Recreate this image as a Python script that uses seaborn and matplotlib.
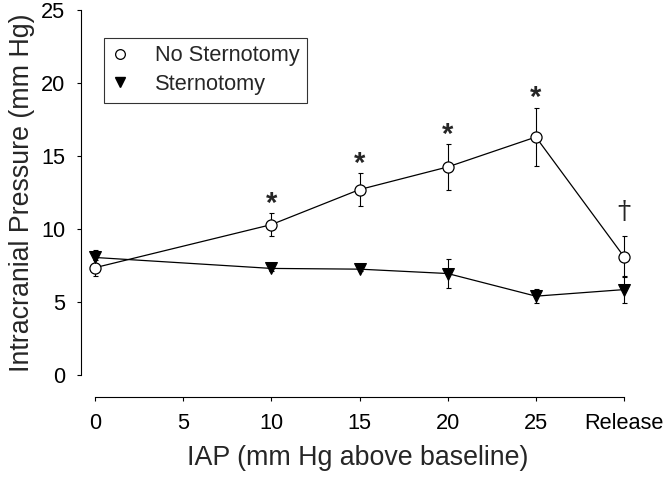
import matplotlib
matplotlib.use('Agg')
import matplotlib.pyplot as plt
from matplotlib.lines import Line2D
import numpy as np
import pandas as pd
import seaborn as sns

# IAP levels (Release is drawn at position 30)
iap = [0, 10, 15, 20, 25, 30]
tick_pos = [0, 5, 10, 15, 20, 25, 30]
tick_labels = ['0', '5', '10', '15', '20', '25', 'Release']

no_stern = [7.35, 10.3, 12.7, 14.25, 16.3, 8.1]
no_stern_err = [0.55, 0.8, 1.15, 1.55, 2.0, 1.4]
stern = [8.05, 7.3, 7.25, 6.95, 5.4, 5.85]
stern_err = [0.5, 0.2, 0.15, 1.0, 0.5, 0.95]

# significance marks
star_x = [10, 15, 20, 25]
star_y = [11.2, 13.9, 15.9, 18.4]
dagger_x = 30
dagger_y = 11.2

df = pd.DataFrame({
    'iap': iap * 2,
    'icp': no_stern + stern,
    'group': ['No Sternotomy'] * len(iap) + ['Sternotomy'] * len(iap),
})

sns.set_style('ticks')
plt.rcParams['font.family'] = ['Liberation Sans', 'DejaVu Sans']

fig = plt.figure(figsize=(6.66, 4.83), dpi=100)
ax = fig.add_axes([0.1216, 0.2236, 0.8313, 0.7557])

ax.errorbar(iap, no_stern, yerr=no_stern_err, fmt='none', ecolor='black',
            elinewidth=0.8, capsize=1.8, capthick=0.8, zorder=2)
ax.errorbar(iap, stern, yerr=stern_err, fmt='none', ecolor='black',
            elinewidth=0.8, capsize=1.8, capthick=0.8, zorder=2)

sns.lineplot(data=df[df.group == 'No Sternotomy'], x='iap', y='icp', ax=ax,
             color='black', linewidth=0.9, marker='o', markersize=8,
             markerfacecolor='white', markeredgecolor='black',
             markeredgewidth=0.9, zorder=3, legend=False)
sns.lineplot(data=df[df.group == 'Sternotomy'], x='iap', y='icp', ax=ax,
             color='black', linewidth=0.9, marker='v', markersize=8.5,
             markerfacecolor='black', markeredgecolor='black', zorder=3,
             legend=False)

for x, y in zip(star_x, star_y):
    ax.text(x, y, '*', ha='center', va='baseline', fontsize=21, fontweight='bold')
ax.text(dagger_x, dagger_y, '\u2020', ha='center', va='center', fontsize=19,
        family=['DejaVu Serif'])

ax.set_xlim(-0.794, 30.6)
ax.set_ylim(0, 25)
ax.set_xticks(tick_pos)
ax.set_xticklabels(tick_labels)
ax.set_yticks([0, 5, 10, 15, 20, 25])

sns.despine(ax=ax)
ax.spines['bottom'].set_position(('outward', 15.8))
ax.spines['bottom'].set_bounds(0, 30)
ax.spines['left'].set_bounds(0, 25)
for s in ['left', 'bottom']:
    ax.spines[s].set_linewidth(0.8)
    ax.spines[s].set_color('black')
ax.tick_params(axis='both', length=3, width=0.8, pad=8.5, labelsize=15.7,
               colors='black', direction='out')

ax.set_xlabel('IAP (mm Hg above baseline)', fontsize=19.3, labelpad=8)
ax.set_ylabel('Intracranial Pressure (mm Hg)', fontsize=19.3, labelpad=4.5)

handles = [
    Line2D([], [], ls='none', marker='o', markersize=7, markerfacecolor='white',
           markeredgecolor='black', markeredgewidth=0.9, label='No Sternotomy'),
    Line2D([], [], ls='none', marker='v', markersize=7.5, markerfacecolor='black',
           markeredgecolor='black', label='Sternotomy'),
]
leg = ax.legend(handles=handles, loc='upper left', bbox_to_anchor=(0.0415, 0.924),
                borderaxespad=0, fontsize=15.7, frameon=True, fancybox=False,
                handlelength=0.8, handletextpad=1.2, borderpad=0.35,
                labelspacing=0.35)
leg.get_frame().set_edgecolor('black')
leg.get_frame().set_linewidth(0.8)

fig.savefig('out.png', dpi=100)
